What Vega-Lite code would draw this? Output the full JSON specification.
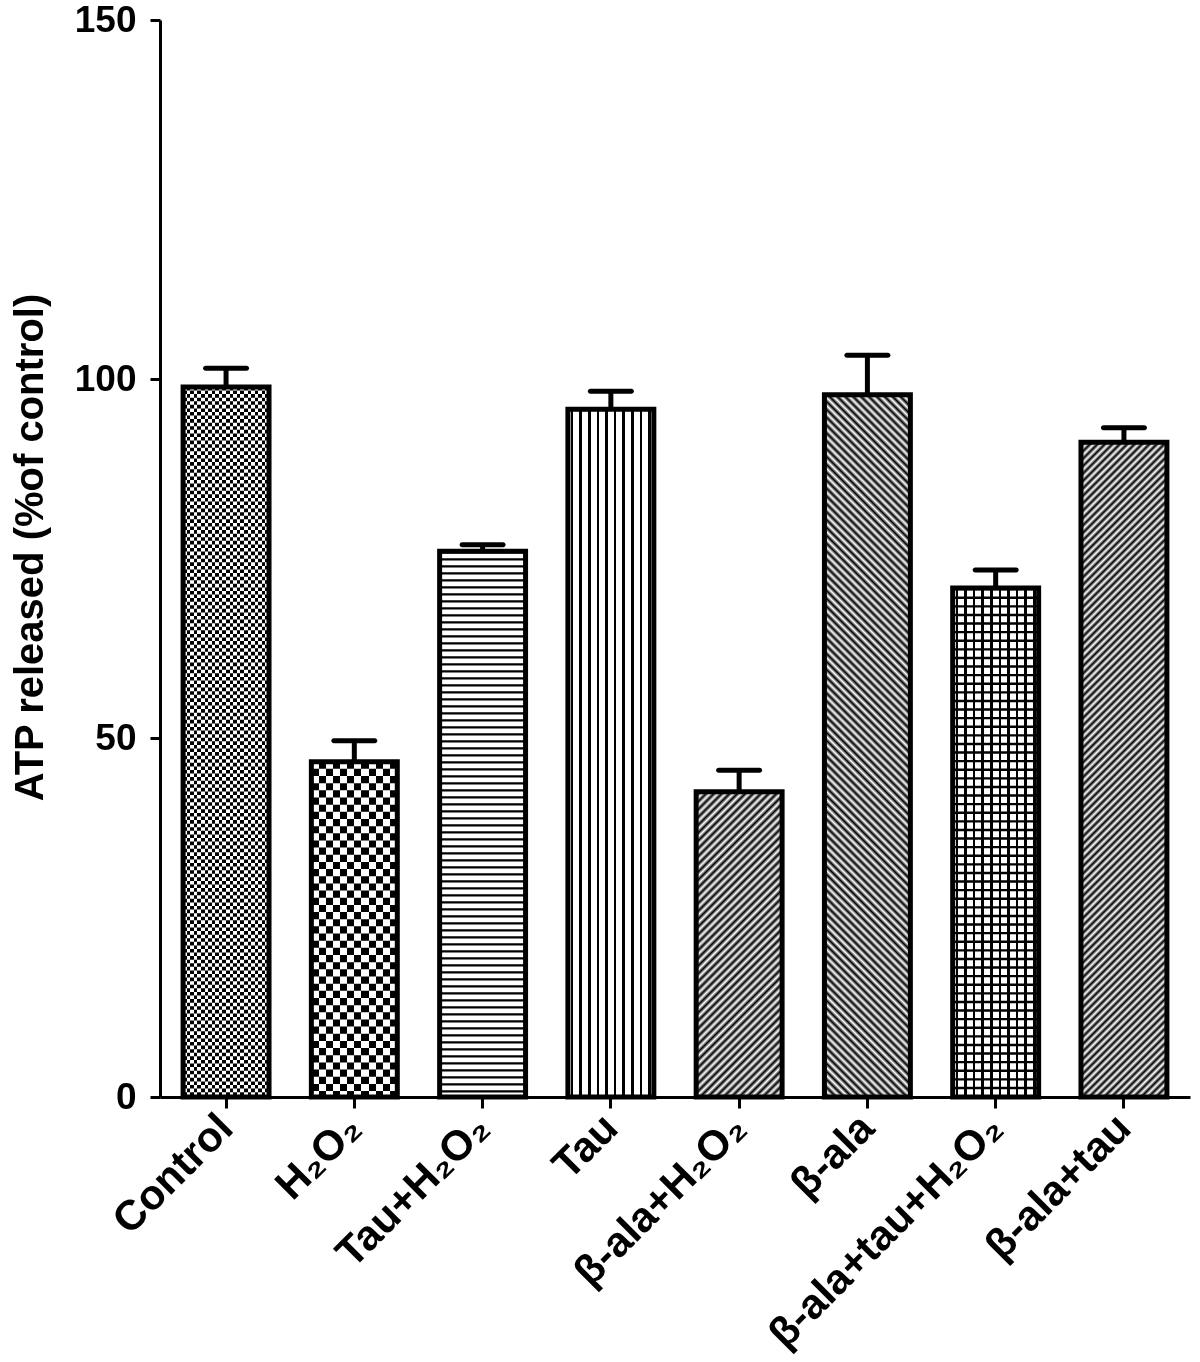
{
  "$schema": "https://vega.github.io/schema/vega-lite/v6.json",
  "width": 1030,
  "height": 1077,
  "autosize": {"type": "none"},
  "padding": {"left": 160, "top": 20, "right": 10, "bottom": 265},
  "background": "white",
  "config": {"view": {"stroke": null}, "font": "Liberation Sans"},
  "data": {
    "values": [
      {"group": "Control", "mean": 98.9, "upper": 101.5},
      {"group": "H₂O₂", "mean": 46.7, "upper": 49.6},
      {"group": "Tau+H₂O₂", "mean": 76.0, "upper": 76.9},
      {"group": "Tau", "mean": 95.8, "upper": 98.3},
      {"group": "β-ala+H₂O₂", "mean": 42.5, "upper": 45.5},
      {"group": "β-ala", "mean": 97.8, "upper": 103.3},
      {"group": "β-ala+tau+H₂O₂", "mean": 70.9, "upper": 73.4},
      {"group": "β-ala+tau", "mean": 91.2, "upper": 93.2}
    ]
  },
  "encoding": {
    "x": {
      "field": "group",
      "type": "nominal",
      "sort": null,
      "scale": {"paddingInner": 0.33, "paddingOuter": 0.18},
      "axis": {
        "title": null,
        "labelAngle": -45,
        "labelAlign": "right",
        "labelBaseline": "middle",
        "labelFont": "Liberation Sans, Arial, sans-serif",
        "labelFontSize": 42,
        "labelFontWeight": "bold",
        "labelColor": "black",
        "labelPadding": 13,
        "labelLimit": 800,
        "domainColor": "black",
        "domainWidth": 3,
        "tickColor": "black",
        "tickWidth": 3,
        "tickSize": 11,
        "zindex": 1
      }
    },
    "y": {
      "field": "mean",
      "type": "quantitative",
      "scale": {"domain": [0, 150], "nice": false},
      "axis": {
        "title": "ATP released (%of control)",
        "titleFont": "Liberation Sans, Arial, sans-serif",
        "titleFontSize": 40,
        "titleFontWeight": "bold",
        "titleColor": "black",
        "titleAngle": 270,
        "titleAlign": "center",
        "titleBaseline": "alphabetic",
        "titleX": -118,
        "titleY": 527,
        "values": [0, 50, 100, 150],
        "grid": false,
        "labelFont": "Liberation Sans, Arial, sans-serif",
        "labelFontSize": 37,
        "labelFontWeight": "bold",
        "labelColor": "black",
        "labelPadding": 14,
        "domainColor": "black",
        "domainWidth": 3,
        "tickColor": "black",
        "tickWidth": 3,
        "tickSize": 10,
        "zindex": 1
      }
    }
  },
  "layer": [
    {
      "transform": [{"filter": {"field": "group", "equal": "Control"}}],
      "mark": {"type": "bar", "fill": {"gradient": "linear", "x1": 0, "y1": 0, "x2": 1, "y2": 0, "stops": [
        {"offset": 0, "color": "#000"}, {"offset": 0.0417, "color": "#000"}, {"offset": 0.0417, "color": "#fff"}, {"offset": 0.0833, "color": "#fff"},
        {"offset": 0.0833, "color": "#000"}, {"offset": 0.125, "color": "#000"}, {"offset": 0.125, "color": "#fff"}, {"offset": 0.1667, "color": "#fff"},
        {"offset": 0.1667, "color": "#000"}, {"offset": 0.2083, "color": "#000"}, {"offset": 0.2083, "color": "#fff"}, {"offset": 0.25, "color": "#fff"},
        {"offset": 0.25, "color": "#000"}, {"offset": 0.2917, "color": "#000"}, {"offset": 0.2917, "color": "#fff"}, {"offset": 0.3333, "color": "#fff"},
        {"offset": 0.3333, "color": "#000"}, {"offset": 0.375, "color": "#000"}, {"offset": 0.375, "color": "#fff"}, {"offset": 0.4167, "color": "#fff"},
        {"offset": 0.4167, "color": "#000"}, {"offset": 0.4583, "color": "#000"}, {"offset": 0.4583, "color": "#fff"}, {"offset": 0.5, "color": "#fff"},
        {"offset": 0.5, "color": "#000"}, {"offset": 0.5417, "color": "#000"}, {"offset": 0.5417, "color": "#fff"}, {"offset": 0.5833, "color": "#fff"},
        {"offset": 0.5833, "color": "#000"}, {"offset": 0.625, "color": "#000"}, {"offset": 0.625, "color": "#fff"}, {"offset": 0.6667, "color": "#fff"},
        {"offset": 0.6667, "color": "#000"}, {"offset": 0.7083, "color": "#000"}, {"offset": 0.7083, "color": "#fff"}, {"offset": 0.75, "color": "#fff"},
        {"offset": 0.75, "color": "#000"}, {"offset": 0.7917, "color": "#000"}, {"offset": 0.7917, "color": "#fff"}, {"offset": 0.8333, "color": "#fff"},
        {"offset": 0.8333, "color": "#000"}, {"offset": 0.875, "color": "#000"}, {"offset": 0.875, "color": "#fff"}, {"offset": 0.9167, "color": "#fff"},
        {"offset": 0.9167, "color": "#000"}, {"offset": 0.9583, "color": "#000"}, {"offset": 0.9583, "color": "#fff"}, {"offset": 1, "color": "#fff"}
      ]}}
    },
    {
      "transform": [{"filter": {"field": "group", "equal": "Control"}}],
      "mark": {"type": "rule", "color": "white", "strokeWidth": 86, "strokeDash": [3.58, 3.58], "blend": "difference"},
      "encoding": {"y2": {"datum": 0}}
    },
    {
      "transform": [{"filter": {"field": "group", "equal": "H₂O₂"}}],
      "mark": {"type": "bar", "fill": {"gradient": "linear", "x1": 0, "y1": 0, "x2": 1, "y2": 0, "stops": [
        {"offset": 0, "color": "#000"}, {"offset": 0.0833, "color": "#000"}, {"offset": 0.0833, "color": "#fff"}, {"offset": 0.1667, "color": "#fff"},
        {"offset": 0.1667, "color": "#000"}, {"offset": 0.25, "color": "#000"}, {"offset": 0.25, "color": "#fff"}, {"offset": 0.3333, "color": "#fff"},
        {"offset": 0.3333, "color": "#000"}, {"offset": 0.4167, "color": "#000"}, {"offset": 0.4167, "color": "#fff"}, {"offset": 0.5, "color": "#fff"},
        {"offset": 0.5, "color": "#000"}, {"offset": 0.5833, "color": "#000"}, {"offset": 0.5833, "color": "#fff"}, {"offset": 0.6667, "color": "#fff"},
        {"offset": 0.6667, "color": "#000"}, {"offset": 0.75, "color": "#000"}, {"offset": 0.75, "color": "#fff"}, {"offset": 0.8333, "color": "#fff"},
        {"offset": 0.8333, "color": "#000"}, {"offset": 0.9167, "color": "#000"}, {"offset": 0.9167, "color": "#fff"}, {"offset": 1, "color": "#fff"}
      ]}}
    },
    {
      "transform": [{"filter": {"field": "group", "equal": "H₂O₂"}}],
      "mark": {"type": "rule", "color": "white", "strokeWidth": 86, "strokeDash": [7.16, 7.16], "blend": "difference"},
      "encoding": {"y2": {"datum": 0}}
    },
    {
      "transform": [{"filter": {"field": "group", "equal": "Tau+H₂O₂"}}],
      "mark": {"type": "bar", "fill": "white"}
    },
    {
      "transform": [{"filter": {"field": "group", "equal": "Tau+H₂O₂"}}],
      "mark": {"type": "rule", "color": "black", "strokeWidth": 86, "strokeDash": [2.3, 4.7]},
      "encoding": {"y2": {"datum": 0}}
    },
    {
      "transform": [{"filter": {"field": "group", "equal": "Tau"}}],
      "mark": {"type": "bar", "fill": {"gradient": "linear", "x1": 0, "y1": 0, "x2": 1, "y2": 0, "stops": [
        {"offset": 0, "color": "#fff"}, {"offset": 0.035, "color": "#fff"}, {"offset": 0.035, "color": "#000"}, {"offset": 0.065, "color": "#000"}, {"offset": 0.065, "color": "#fff"},
        {"offset": 0.135, "color": "#fff"}, {"offset": 0.135, "color": "#000"}, {"offset": 0.165, "color": "#000"}, {"offset": 0.165, "color": "#fff"},
        {"offset": 0.235, "color": "#fff"}, {"offset": 0.235, "color": "#000"}, {"offset": 0.265, "color": "#000"}, {"offset": 0.265, "color": "#fff"},
        {"offset": 0.335, "color": "#fff"}, {"offset": 0.335, "color": "#000"}, {"offset": 0.365, "color": "#000"}, {"offset": 0.365, "color": "#fff"},
        {"offset": 0.435, "color": "#fff"}, {"offset": 0.435, "color": "#000"}, {"offset": 0.465, "color": "#000"}, {"offset": 0.465, "color": "#fff"},
        {"offset": 0.535, "color": "#fff"}, {"offset": 0.535, "color": "#000"}, {"offset": 0.565, "color": "#000"}, {"offset": 0.565, "color": "#fff"},
        {"offset": 0.635, "color": "#fff"}, {"offset": 0.635, "color": "#000"}, {"offset": 0.665, "color": "#000"}, {"offset": 0.665, "color": "#fff"},
        {"offset": 0.735, "color": "#fff"}, {"offset": 0.735, "color": "#000"}, {"offset": 0.765, "color": "#000"}, {"offset": 0.765, "color": "#fff"},
        {"offset": 0.835, "color": "#fff"}, {"offset": 0.835, "color": "#000"}, {"offset": 0.865, "color": "#000"}, {"offset": 0.865, "color": "#fff"},
        {"offset": 0.935, "color": "#fff"}, {"offset": 0.935, "color": "#000"}, {"offset": 0.965, "color": "#000"}, {"offset": 0.965, "color": "#fff"},
        {"offset": 1, "color": "#fff"}
      ]}}
    },
    {
      "transform": [{"filter": {"field": "group", "equal": "β-ala+H₂O₂"}}],
      "mark": {"type": "bar", "fill": {"gradient": "linear", "x1": 0, "y1": 0, "x2": 0.3343, "y2": 1.1878, "stops": [
        {"offset": 0, "color": "#fff"}, {"offset": 0.01, "color": "#000"}, {"offset": 0.02, "color": "#fff"}, {"offset": 0.03, "color": "#000"}, {"offset": 0.04, "color": "#fff"},
        {"offset": 0.05, "color": "#000"}, {"offset": 0.06, "color": "#fff"}, {"offset": 0.07, "color": "#000"}, {"offset": 0.08, "color": "#fff"}, {"offset": 0.09, "color": "#000"},
        {"offset": 0.1, "color": "#fff"}, {"offset": 0.11, "color": "#000"}, {"offset": 0.12, "color": "#fff"}, {"offset": 0.13, "color": "#000"}, {"offset": 0.14, "color": "#fff"},
        {"offset": 0.15, "color": "#000"}, {"offset": 0.16, "color": "#fff"}, {"offset": 0.17, "color": "#000"}, {"offset": 0.18, "color": "#fff"}, {"offset": 0.19, "color": "#000"},
        {"offset": 0.2, "color": "#fff"}, {"offset": 0.21, "color": "#000"}, {"offset": 0.22, "color": "#fff"}, {"offset": 0.23, "color": "#000"}, {"offset": 0.24, "color": "#fff"},
        {"offset": 0.25, "color": "#000"}, {"offset": 0.26, "color": "#fff"}, {"offset": 0.27, "color": "#000"}, {"offset": 0.28, "color": "#fff"}, {"offset": 0.29, "color": "#000"},
        {"offset": 0.3, "color": "#fff"}, {"offset": 0.31, "color": "#000"}, {"offset": 0.32, "color": "#fff"}, {"offset": 0.33, "color": "#000"}, {"offset": 0.34, "color": "#fff"},
        {"offset": 0.35, "color": "#000"}, {"offset": 0.36, "color": "#fff"}, {"offset": 0.37, "color": "#000"}, {"offset": 0.38, "color": "#fff"}, {"offset": 0.39, "color": "#000"},
        {"offset": 0.4, "color": "#fff"}, {"offset": 0.41, "color": "#000"}, {"offset": 0.42, "color": "#fff"}, {"offset": 0.43, "color": "#000"}, {"offset": 0.44, "color": "#fff"},
        {"offset": 0.45, "color": "#000"}, {"offset": 0.46, "color": "#fff"}, {"offset": 0.47, "color": "#000"}, {"offset": 0.48, "color": "#fff"}, {"offset": 0.49, "color": "#000"},
        {"offset": 0.5, "color": "#fff"}, {"offset": 0.51, "color": "#000"}, {"offset": 0.52, "color": "#fff"}, {"offset": 0.53, "color": "#000"}, {"offset": 0.54, "color": "#fff"},
        {"offset": 0.55, "color": "#000"}, {"offset": 0.56, "color": "#fff"}, {"offset": 0.57, "color": "#000"}, {"offset": 0.58, "color": "#fff"}, {"offset": 0.59, "color": "#000"},
        {"offset": 0.6, "color": "#fff"}, {"offset": 0.61, "color": "#000"}, {"offset": 0.62, "color": "#fff"}, {"offset": 0.63, "color": "#000"}, {"offset": 0.64, "color": "#fff"},
        {"offset": 0.65, "color": "#000"}, {"offset": 0.66, "color": "#fff"}, {"offset": 0.67, "color": "#000"}, {"offset": 0.68, "color": "#fff"}, {"offset": 0.69, "color": "#000"},
        {"offset": 0.7, "color": "#fff"}, {"offset": 0.71, "color": "#000"}, {"offset": 0.72, "color": "#fff"}, {"offset": 0.73, "color": "#000"}, {"offset": 0.74, "color": "#fff"},
        {"offset": 0.75, "color": "#000"}, {"offset": 0.76, "color": "#fff"}, {"offset": 0.77, "color": "#000"}, {"offset": 0.78, "color": "#fff"}, {"offset": 0.79, "color": "#000"},
        {"offset": 0.8, "color": "#fff"}, {"offset": 0.81, "color": "#000"}, {"offset": 0.82, "color": "#fff"}, {"offset": 0.83, "color": "#000"}, {"offset": 0.84, "color": "#fff"},
        {"offset": 0.85, "color": "#000"}, {"offset": 0.86, "color": "#fff"}, {"offset": 0.87, "color": "#000"}, {"offset": 0.88, "color": "#fff"}, {"offset": 0.89, "color": "#000"},
        {"offset": 0.9, "color": "#fff"}, {"offset": 0.91, "color": "#000"}, {"offset": 0.92, "color": "#fff"}, {"offset": 0.93, "color": "#000"}, {"offset": 0.94, "color": "#fff"},
        {"offset": 0.95, "color": "#000"}, {"offset": 0.96, "color": "#fff"}, {"offset": 0.97, "color": "#000"}, {"offset": 0.98, "color": "#fff"}, {"offset": 0.99, "color": "#000"},
        {"offset": 1, "color": "#fff"}
      ]}}
    },
    {
      "transform": [{"filter": {"field": "group", "equal": "β-ala"}}],
      "mark": {"type": "bar", "fill": {"gradient": "linear", "x1": 0, "y1": 1, "x2": 0.1353, "y2": -0.106, "stops": [
        {"offset": 0, "color": "#fff"}, {"offset": 0.005, "color": "#000"}, {"offset": 0.01, "color": "#fff"}, {"offset": 0.015, "color": "#000"}, {"offset": 0.02, "color": "#fff"}, {"offset": 0.025, "color": "#000"}, {"offset": 0.03, "color": "#fff"}, {"offset": 0.035, "color": "#000"}, {"offset": 0.04, "color": "#fff"}, {"offset": 0.045, "color": "#000"},
        {"offset": 0.05, "color": "#fff"}, {"offset": 0.055, "color": "#000"}, {"offset": 0.06, "color": "#fff"}, {"offset": 0.065, "color": "#000"}, {"offset": 0.07, "color": "#fff"}, {"offset": 0.075, "color": "#000"}, {"offset": 0.08, "color": "#fff"}, {"offset": 0.085, "color": "#000"}, {"offset": 0.09, "color": "#fff"}, {"offset": 0.095, "color": "#000"},
        {"offset": 0.1, "color": "#fff"}, {"offset": 0.105, "color": "#000"}, {"offset": 0.11, "color": "#fff"}, {"offset": 0.115, "color": "#000"}, {"offset": 0.12, "color": "#fff"}, {"offset": 0.125, "color": "#000"}, {"offset": 0.13, "color": "#fff"}, {"offset": 0.135, "color": "#000"}, {"offset": 0.14, "color": "#fff"}, {"offset": 0.145, "color": "#000"},
        {"offset": 0.15, "color": "#fff"}, {"offset": 0.155, "color": "#000"}, {"offset": 0.16, "color": "#fff"}, {"offset": 0.165, "color": "#000"}, {"offset": 0.17, "color": "#fff"}, {"offset": 0.175, "color": "#000"}, {"offset": 0.18, "color": "#fff"}, {"offset": 0.185, "color": "#000"}, {"offset": 0.19, "color": "#fff"}, {"offset": 0.195, "color": "#000"},
        {"offset": 0.2, "color": "#fff"}, {"offset": 0.205, "color": "#000"}, {"offset": 0.21, "color": "#fff"}, {"offset": 0.215, "color": "#000"}, {"offset": 0.22, "color": "#fff"}, {"offset": 0.225, "color": "#000"}, {"offset": 0.23, "color": "#fff"}, {"offset": 0.235, "color": "#000"}, {"offset": 0.24, "color": "#fff"}, {"offset": 0.245, "color": "#000"},
        {"offset": 0.25, "color": "#fff"}, {"offset": 0.255, "color": "#000"}, {"offset": 0.26, "color": "#fff"}, {"offset": 0.265, "color": "#000"}, {"offset": 0.27, "color": "#fff"}, {"offset": 0.275, "color": "#000"}, {"offset": 0.28, "color": "#fff"}, {"offset": 0.285, "color": "#000"}, {"offset": 0.29, "color": "#fff"}, {"offset": 0.295, "color": "#000"},
        {"offset": 0.3, "color": "#fff"}, {"offset": 0.305, "color": "#000"}, {"offset": 0.31, "color": "#fff"}, {"offset": 0.315, "color": "#000"}, {"offset": 0.32, "color": "#fff"}, {"offset": 0.325, "color": "#000"}, {"offset": 0.33, "color": "#fff"}, {"offset": 0.335, "color": "#000"}, {"offset": 0.34, "color": "#fff"}, {"offset": 0.345, "color": "#000"},
        {"offset": 0.35, "color": "#fff"}, {"offset": 0.355, "color": "#000"}, {"offset": 0.36, "color": "#fff"}, {"offset": 0.365, "color": "#000"}, {"offset": 0.37, "color": "#fff"}, {"offset": 0.375, "color": "#000"}, {"offset": 0.38, "color": "#fff"}, {"offset": 0.385, "color": "#000"}, {"offset": 0.39, "color": "#fff"}, {"offset": 0.395, "color": "#000"},
        {"offset": 0.4, "color": "#fff"}, {"offset": 0.405, "color": "#000"}, {"offset": 0.41, "color": "#fff"}, {"offset": 0.415, "color": "#000"}, {"offset": 0.42, "color": "#fff"}, {"offset": 0.425, "color": "#000"}, {"offset": 0.43, "color": "#fff"}, {"offset": 0.435, "color": "#000"}, {"offset": 0.44, "color": "#fff"}, {"offset": 0.445, "color": "#000"},
        {"offset": 0.45, "color": "#fff"}, {"offset": 0.455, "color": "#000"}, {"offset": 0.46, "color": "#fff"}, {"offset": 0.465, "color": "#000"}, {"offset": 0.47, "color": "#fff"}, {"offset": 0.475, "color": "#000"}, {"offset": 0.48, "color": "#fff"}, {"offset": 0.485, "color": "#000"}, {"offset": 0.49, "color": "#fff"}, {"offset": 0.495, "color": "#000"},
        {"offset": 0.5, "color": "#fff"}, {"offset": 0.505, "color": "#000"}, {"offset": 0.51, "color": "#fff"}, {"offset": 0.515, "color": "#000"}, {"offset": 0.52, "color": "#fff"}, {"offset": 0.525, "color": "#000"}, {"offset": 0.53, "color": "#fff"}, {"offset": 0.535, "color": "#000"}, {"offset": 0.54, "color": "#fff"}, {"offset": 0.545, "color": "#000"},
        {"offset": 0.55, "color": "#fff"}, {"offset": 0.555, "color": "#000"}, {"offset": 0.56, "color": "#fff"}, {"offset": 0.565, "color": "#000"}, {"offset": 0.57, "color": "#fff"}, {"offset": 0.575, "color": "#000"}, {"offset": 0.58, "color": "#fff"}, {"offset": 0.585, "color": "#000"}, {"offset": 0.59, "color": "#fff"}, {"offset": 0.595, "color": "#000"},
        {"offset": 0.6, "color": "#fff"}, {"offset": 0.605, "color": "#000"}, {"offset": 0.61, "color": "#fff"}, {"offset": 0.615, "color": "#000"}, {"offset": 0.62, "color": "#fff"}, {"offset": 0.625, "color": "#000"}, {"offset": 0.63, "color": "#fff"}, {"offset": 0.635, "color": "#000"}, {"offset": 0.64, "color": "#fff"}, {"offset": 0.645, "color": "#000"},
        {"offset": 0.65, "color": "#fff"}, {"offset": 0.655, "color": "#000"}, {"offset": 0.66, "color": "#fff"}, {"offset": 0.665, "color": "#000"}, {"offset": 0.67, "color": "#fff"}, {"offset": 0.675, "color": "#000"}, {"offset": 0.68, "color": "#fff"}, {"offset": 0.685, "color": "#000"}, {"offset": 0.69, "color": "#fff"}, {"offset": 0.695, "color": "#000"},
        {"offset": 0.7, "color": "#fff"}, {"offset": 0.705, "color": "#000"}, {"offset": 0.71, "color": "#fff"}, {"offset": 0.715, "color": "#000"}, {"offset": 0.72, "color": "#fff"}, {"offset": 0.725, "color": "#000"}, {"offset": 0.73, "color": "#fff"}, {"offset": 0.735, "color": "#000"}, {"offset": 0.74, "color": "#fff"}, {"offset": 0.745, "color": "#000"},
        {"offset": 0.75, "color": "#fff"}, {"offset": 0.755, "color": "#000"}, {"offset": 0.76, "color": "#fff"}, {"offset": 0.765, "color": "#000"}, {"offset": 0.77, "color": "#fff"}, {"offset": 0.775, "color": "#000"}, {"offset": 0.78, "color": "#fff"}, {"offset": 0.785, "color": "#000"}, {"offset": 0.79, "color": "#fff"}, {"offset": 0.795, "color": "#000"},
        {"offset": 0.8, "color": "#fff"}, {"offset": 0.805, "color": "#000"}, {"offset": 0.81, "color": "#fff"}, {"offset": 0.815, "color": "#000"}, {"offset": 0.82, "color": "#fff"}, {"offset": 0.825, "color": "#000"}, {"offset": 0.83, "color": "#fff"}, {"offset": 0.835, "color": "#000"}, {"offset": 0.84, "color": "#fff"}, {"offset": 0.845, "color": "#000"},
        {"offset": 0.85, "color": "#fff"}, {"offset": 0.855, "color": "#000"}, {"offset": 0.86, "color": "#fff"}, {"offset": 0.865, "color": "#000"}, {"offset": 0.87, "color": "#fff"}, {"offset": 0.875, "color": "#000"}, {"offset": 0.88, "color": "#fff"}, {"offset": 0.885, "color": "#000"}, {"offset": 0.89, "color": "#fff"}, {"offset": 0.895, "color": "#000"},
        {"offset": 0.9, "color": "#fff"}, {"offset": 0.905, "color": "#000"}, {"offset": 0.91, "color": "#fff"}, {"offset": 0.915, "color": "#000"}, {"offset": 0.92, "color": "#fff"}, {"offset": 0.925, "color": "#000"}, {"offset": 0.93, "color": "#fff"}, {"offset": 0.935, "color": "#000"}, {"offset": 0.94, "color": "#fff"}, {"offset": 0.945, "color": "#000"},
        {"offset": 0.95, "color": "#fff"}, {"offset": 0.955, "color": "#000"}, {"offset": 0.96, "color": "#fff"}, {"offset": 0.965, "color": "#000"}, {"offset": 0.97, "color": "#fff"}, {"offset": 0.975, "color": "#000"}, {"offset": 0.98, "color": "#fff"}, {"offset": 0.985, "color": "#000"}, {"offset": 0.99, "color": "#fff"}, {"offset": 0.995, "color": "#000"},
        {"offset": 1, "color": "#fff"}
      ]}}
    },
    {
      "transform": [{"filter": {"field": "group", "equal": "β-ala+tau+H₂O₂"}}],
      "mark": {"type": "bar", "fill": {"gradient": "linear", "x1": 0, "y1": 0, "x2": 1, "y2": 0, "stops": [
        {"offset": 0, "color": "#fff"}, {"offset": 0.035, "color": "#fff"}, {"offset": 0.035, "color": "#000"}, {"offset": 0.065, "color": "#000"}, {"offset": 0.065, "color": "#fff"},
        {"offset": 0.135, "color": "#fff"}, {"offset": 0.135, "color": "#000"}, {"offset": 0.165, "color": "#000"}, {"offset": 0.165, "color": "#fff"},
        {"offset": 0.235, "color": "#fff"}, {"offset": 0.235, "color": "#000"}, {"offset": 0.265, "color": "#000"}, {"offset": 0.265, "color": "#fff"},
        {"offset": 0.335, "color": "#fff"}, {"offset": 0.335, "color": "#000"}, {"offset": 0.365, "color": "#000"}, {"offset": 0.365, "color": "#fff"},
        {"offset": 0.435, "color": "#fff"}, {"offset": 0.435, "color": "#000"}, {"offset": 0.465, "color": "#000"}, {"offset": 0.465, "color": "#fff"},
        {"offset": 0.535, "color": "#fff"}, {"offset": 0.535, "color": "#000"}, {"offset": 0.565, "color": "#000"}, {"offset": 0.565, "color": "#fff"},
        {"offset": 0.635, "color": "#fff"}, {"offset": 0.635, "color": "#000"}, {"offset": 0.665, "color": "#000"}, {"offset": 0.665, "color": "#fff"},
        {"offset": 0.735, "color": "#fff"}, {"offset": 0.735, "color": "#000"}, {"offset": 0.765, "color": "#000"}, {"offset": 0.765, "color": "#fff"},
        {"offset": 0.835, "color": "#fff"}, {"offset": 0.835, "color": "#000"}, {"offset": 0.865, "color": "#000"}, {"offset": 0.865, "color": "#fff"},
        {"offset": 0.935, "color": "#fff"}, {"offset": 0.935, "color": "#000"}, {"offset": 0.965, "color": "#000"}, {"offset": 0.965, "color": "#fff"},
        {"offset": 1, "color": "#fff"}
      ]}}
    },
    {
      "transform": [{"filter": {"field": "group", "equal": "β-ala+tau+H₂O₂"}}],
      "mark": {"type": "rule", "color": "black", "strokeWidth": 86, "strokeDash": [2.4, 6.2]},
      "encoding": {"y2": {"datum": 0}}
    },
    {
      "transform": [{"filter": {"field": "group", "equal": "β-ala+tau"}}],
      "mark": {"type": "bar", "fill": {"gradient": "linear", "x1": 0, "y1": 0, "x2": 0.1459, "y2": 1.1122, "stops": [
        {"offset": 0, "color": "#fff"}, {"offset": 0.005, "color": "#000"}, {"offset": 0.01, "color": "#fff"}, {"offset": 0.015, "color": "#000"}, {"offset": 0.02, "color": "#fff"}, {"offset": 0.025, "color": "#000"}, {"offset": 0.03, "color": "#fff"}, {"offset": 0.035, "color": "#000"}, {"offset": 0.04, "color": "#fff"}, {"offset": 0.045, "color": "#000"},
        {"offset": 0.05, "color": "#fff"}, {"offset": 0.055, "color": "#000"}, {"offset": 0.06, "color": "#fff"}, {"offset": 0.065, "color": "#000"}, {"offset": 0.07, "color": "#fff"}, {"offset": 0.075, "color": "#000"}, {"offset": 0.08, "color": "#fff"}, {"offset": 0.085, "color": "#000"}, {"offset": 0.09, "color": "#fff"}, {"offset": 0.095, "color": "#000"},
        {"offset": 0.1, "color": "#fff"}, {"offset": 0.105, "color": "#000"}, {"offset": 0.11, "color": "#fff"}, {"offset": 0.115, "color": "#000"}, {"offset": 0.12, "color": "#fff"}, {"offset": 0.125, "color": "#000"}, {"offset": 0.13, "color": "#fff"}, {"offset": 0.135, "color": "#000"}, {"offset": 0.14, "color": "#fff"}, {"offset": 0.145, "color": "#000"},
        {"offset": 0.15, "color": "#fff"}, {"offset": 0.155, "color": "#000"}, {"offset": 0.16, "color": "#fff"}, {"offset": 0.165, "color": "#000"}, {"offset": 0.17, "color": "#fff"}, {"offset": 0.175, "color": "#000"}, {"offset": 0.18, "color": "#fff"}, {"offset": 0.185, "color": "#000"}, {"offset": 0.19, "color": "#fff"}, {"offset": 0.195, "color": "#000"},
        {"offset": 0.2, "color": "#fff"}, {"offset": 0.205, "color": "#000"}, {"offset": 0.21, "color": "#fff"}, {"offset": 0.215, "color": "#000"}, {"offset": 0.22, "color": "#fff"}, {"offset": 0.225, "color": "#000"}, {"offset": 0.23, "color": "#fff"}, {"offset": 0.235, "color": "#000"}, {"offset": 0.24, "color": "#fff"}, {"offset": 0.245, "color": "#000"},
        {"offset": 0.25, "color": "#fff"}, {"offset": 0.255, "color": "#000"}, {"offset": 0.26, "color": "#fff"}, {"offset": 0.265, "color": "#000"}, {"offset": 0.27, "color": "#fff"}, {"offset": 0.275, "color": "#000"}, {"offset": 0.28, "color": "#fff"}, {"offset": 0.285, "color": "#000"}, {"offset": 0.29, "color": "#fff"}, {"offset": 0.295, "color": "#000"},
        {"offset": 0.3, "color": "#fff"}, {"offset": 0.305, "color": "#000"}, {"offset": 0.31, "color": "#fff"}, {"offset": 0.315, "color": "#000"}, {"offset": 0.32, "color": "#fff"}, {"offset": 0.325, "color": "#000"}, {"offset": 0.33, "color": "#fff"}, {"offset": 0.335, "color": "#000"}, {"offset": 0.34, "color": "#fff"}, {"offset": 0.345, "color": "#000"},
        {"offset": 0.35, "color": "#fff"}, {"offset": 0.355, "color": "#000"}, {"offset": 0.36, "color": "#fff"}, {"offset": 0.365, "color": "#000"}, {"offset": 0.37, "color": "#fff"}, {"offset": 0.375, "color": "#000"}, {"offset": 0.38, "color": "#fff"}, {"offset": 0.385, "color": "#000"}, {"offset": 0.39, "color": "#fff"}, {"offset": 0.395, "color": "#000"},
        {"offset": 0.4, "color": "#fff"}, {"offset": 0.405, "color": "#000"}, {"offset": 0.41, "color": "#fff"}, {"offset": 0.415, "color": "#000"}, {"offset": 0.42, "color": "#fff"}, {"offset": 0.425, "color": "#000"}, {"offset": 0.43, "color": "#fff"}, {"offset": 0.435, "color": "#000"}, {"offset": 0.44, "color": "#fff"}, {"offset": 0.445, "color": "#000"},
        {"offset": 0.45, "color": "#fff"}, {"offset": 0.455, "color": "#000"}, {"offset": 0.46, "color": "#fff"}, {"offset": 0.465, "color": "#000"}, {"offset": 0.47, "color": "#fff"}, {"offset": 0.475, "color": "#000"}, {"offset": 0.48, "color": "#fff"}, {"offset": 0.485, "color": "#000"}, {"offset": 0.49, "color": "#fff"}, {"offset": 0.495, "color": "#000"},
        {"offset": 0.5, "color": "#fff"}, {"offset": 0.505, "color": "#000"}, {"offset": 0.51, "color": "#fff"}, {"offset": 0.515, "color": "#000"}, {"offset": 0.52, "color": "#fff"}, {"offset": 0.525, "color": "#000"}, {"offset": 0.53, "color": "#fff"}, {"offset": 0.535, "color": "#000"}, {"offset": 0.54, "color": "#fff"}, {"offset": 0.545, "color": "#000"},
        {"offset": 0.55, "color": "#fff"}, {"offset": 0.555, "color": "#000"}, {"offset": 0.56, "color": "#fff"}, {"offset": 0.565, "color": "#000"}, {"offset": 0.57, "color": "#fff"}, {"offset": 0.575, "color": "#000"}, {"offset": 0.58, "color": "#fff"}, {"offset": 0.585, "color": "#000"}, {"offset": 0.59, "color": "#fff"}, {"offset": 0.595, "color": "#000"},
        {"offset": 0.6, "color": "#fff"}, {"offset": 0.605, "color": "#000"}, {"offset": 0.61, "color": "#fff"}, {"offset": 0.615, "color": "#000"}, {"offset": 0.62, "color": "#fff"}, {"offset": 0.625, "color": "#000"}, {"offset": 0.63, "color": "#fff"}, {"offset": 0.635, "color": "#000"}, {"offset": 0.64, "color": "#fff"}, {"offset": 0.645, "color": "#000"},
        {"offset": 0.65, "color": "#fff"}, {"offset": 0.655, "color": "#000"}, {"offset": 0.66, "color": "#fff"}, {"offset": 0.665, "color": "#000"}, {"offset": 0.67, "color": "#fff"}, {"offset": 0.675, "color": "#000"}, {"offset": 0.68, "color": "#fff"}, {"offset": 0.685, "color": "#000"}, {"offset": 0.69, "color": "#fff"}, {"offset": 0.695, "color": "#000"},
        {"offset": 0.7, "color": "#fff"}, {"offset": 0.705, "color": "#000"}, {"offset": 0.71, "color": "#fff"}, {"offset": 0.715, "color": "#000"}, {"offset": 0.72, "color": "#fff"}, {"offset": 0.725, "color": "#000"}, {"offset": 0.73, "color": "#fff"}, {"offset": 0.735, "color": "#000"}, {"offset": 0.74, "color": "#fff"}, {"offset": 0.745, "color": "#000"},
        {"offset": 0.75, "color": "#fff"}, {"offset": 0.755, "color": "#000"}, {"offset": 0.76, "color": "#fff"}, {"offset": 0.765, "color": "#000"}, {"offset": 0.77, "color": "#fff"}, {"offset": 0.775, "color": "#000"}, {"offset": 0.78, "color": "#fff"}, {"offset": 0.785, "color": "#000"}, {"offset": 0.79, "color": "#fff"}, {"offset": 0.795, "color": "#000"},
        {"offset": 0.8, "color": "#fff"}, {"offset": 0.805, "color": "#000"}, {"offset": 0.81, "color": "#fff"}, {"offset": 0.815, "color": "#000"}, {"offset": 0.82, "color": "#fff"}, {"offset": 0.825, "color": "#000"}, {"offset": 0.83, "color": "#fff"}, {"offset": 0.835, "color": "#000"}, {"offset": 0.84, "color": "#fff"}, {"offset": 0.845, "color": "#000"},
        {"offset": 0.85, "color": "#fff"}, {"offset": 0.855, "color": "#000"}, {"offset": 0.86, "color": "#fff"}, {"offset": 0.865, "color": "#000"}, {"offset": 0.87, "color": "#fff"}, {"offset": 0.875, "color": "#000"}, {"offset": 0.88, "color": "#fff"}, {"offset": 0.885, "color": "#000"}, {"offset": 0.89, "color": "#fff"}, {"offset": 0.895, "color": "#000"},
        {"offset": 0.9, "color": "#fff"}, {"offset": 0.905, "color": "#000"}, {"offset": 0.91, "color": "#fff"}, {"offset": 0.915, "color": "#000"}, {"offset": 0.92, "color": "#fff"}, {"offset": 0.925, "color": "#000"}, {"offset": 0.93, "color": "#fff"}, {"offset": 0.935, "color": "#000"}, {"offset": 0.94, "color": "#fff"}, {"offset": 0.945, "color": "#000"},
        {"offset": 0.95, "color": "#fff"}, {"offset": 0.955, "color": "#000"}, {"offset": 0.96, "color": "#fff"}, {"offset": 0.965, "color": "#000"}, {"offset": 0.97, "color": "#fff"}, {"offset": 0.975, "color": "#000"}, {"offset": 0.98, "color": "#fff"}, {"offset": 0.985, "color": "#000"}, {"offset": 0.99, "color": "#fff"}, {"offset": 0.995, "color": "#000"},
        {"offset": 1, "color": "#fff"}
      ]}}
    },
    {
      "mark": {"type": "bar", "fillOpacity": 0, "stroke": "black", "strokeWidth": 5}
    },
    {
      "mark": {"type": "rule", "color": "black", "strokeWidth": 5},
      "encoding": {
        "y2": {"field": "upper"}
      }
    },
    {
      "mark": {"type": "tick", "color": "black", "opacity": 1, "size": 46, "thickness": 5, "cornerRadius": 2.5},
      "encoding": {
        "y": {
          "field": "upper",
          "type": "quantitative",
          "axis": {
            "title": "ATP released (%of control)",
            "titleFont": "Liberation Sans, Arial, sans-serif",
            "titleFontSize": 40,
            "titleFontWeight": "bold",
            "titleColor": "black",
            "titleAngle": 270,
            "titleAlign": "center",
            "titleBaseline": "alphabetic",
            "titleX": -118,
            "titleY": 527,
            "values": [0, 50, 100, 150],
            "grid": false,
            "labelFont": "Liberation Sans, Arial, sans-serif",
            "labelFontSize": 37,
            "labelFontWeight": "bold",
            "labelColor": "black",
            "labelPadding": 14,
            "domainColor": "black",
            "domainWidth": 3,
            "tickColor": "black",
            "tickWidth": 3,
            "tickSize": 10,
            "zindex": 1
          }
        }
      }
    }
  ]
}
